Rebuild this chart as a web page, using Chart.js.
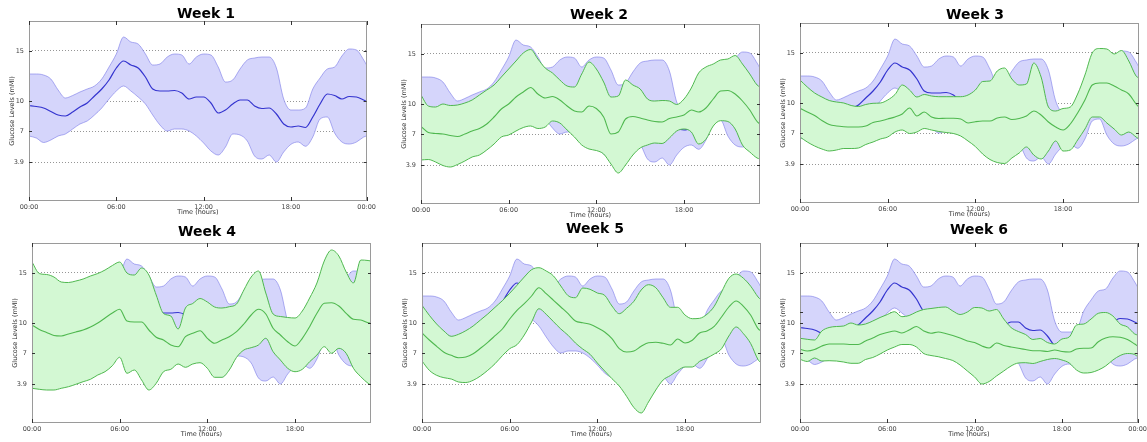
<!DOCTYPE html>
<html>
<head>
<meta charset="utf-8">
<script src="https://cdn.jsdelivr.net/npm/chart.js@4.4.1/dist/chart.umd.min.js"></script>
<style>
html,body{margin:0;padding:0;background:#fff;}
body{width:1147px;height:442px;overflow:hidden;position:relative;}
canvas{position:absolute;}
</style>
</head>
<body>
<script>
// ---------- DATA ----------
const hours = [0,0.5,1,1.5,2,2.5,3,3.5,4,4.5,5,5.5,6,6.5,7,7.5,8,8.5,9,9.5,10,10.5,11,11.5,12,12.5,13,13.5,14,14.5,15,15.5,16,16.5,17,17.5,18,18.5,19,19.5,20,20.5,21,21.5,22,22.5,23,23.2];
const xTickHours = [0, 6, 12, 18];
const X_END = 23.2;
const yTickValues = [3.9, 7, 10, 15];
const week6ExtraGrid = [11.1];
const weekTitles = ['Week 1','Week 2','Week 3','Week 4','Week 5','Week 6'];

// Week 1 (baseline, blue band shown in every panel)
const week1Upper  = [12.7,12.7,12.6,12.2,11.1,10.3,10.55,10.9,11.2,11.5,12.2,13.4,14.7,16.4,15.9,15.7,14.7,13.6,13.7,14.4,14.7,14.6,13.7,14.4,14.7,14.6,13.4,11.9,12.1,13.2,14.1,14.3,14.4,14.4,13.3,10.2,9.1,9.1,9.3,11.2,12.3,13.2,13.4,14.5,15.2,15.1,14.1,13.6];
const week1Median = [9.55,9.45,9.3,8.95,8.6,8.5,8.9,9.4,9.8,10.5,11.2,12.1,13.3,14.0,13.6,13.3,12.4,11.2,11.0,11.0,11.05,10.8,10.2,10.4,10.4,9.8,8.8,9.1,9.7,10.1,10.1,9.5,9.25,9.3,8.7,7.7,7.4,7.5,7.35,8.4,9.7,10.7,10.55,10.2,10.45,10.4,10.1,9.95];
const week1Lower  = [6.5,6.3,5.85,6.1,6.5,6.7,7.2,7.7,8.0,8.6,9.3,10.2,11.0,11.5,11.0,10.4,9.7,8.6,7.6,7.0,7.2,7.2,7.0,6.5,5.8,5.0,4.6,5.4,6.7,6.6,6.0,4.5,4.2,4.6,3.9,4.9,5.67,5.9,5.47,6.4,8.2,8.4,6.8,5.9,5.7,5.9,6.4,6.5];

// Week 2
const week2Upper  = [10.9,9.8,9.7,10.0,9.85,9.9,10.1,10.4,10.9,11.4,11.9,12.7,13.5,14.3,15.1,15.45,14.5,13.6,13.1,12.4,11.8,11.7,13.0,14.2,13.5,12.2,10.7,10.8,12.4,11.9,11.5,10.5,10.3,10.35,10.3,9.95,10.5,11.6,13.1,13.7,14.0,14.4,14.5,14.85,14.0,13.0,11.9,11.7];
const week2Median = [7.75,7.15,7.05,7.0,6.85,6.75,7.0,7.3,7.55,8.0,8.7,9.5,10.0,10.7,11.2,11.65,11.0,10.6,10.75,10.4,9.8,9.3,9.2,9.8,9.55,8.7,7.0,7.2,8.5,8.75,8.6,8.4,8.25,8.2,8.55,8.7,8.9,9.4,9.2,9.6,10.5,11.3,11.35,11.0,10.3,9.4,8.25,8.0];
const week2Lower  = [4.4,4.45,4.2,3.85,3.7,3.95,4.3,4.7,4.9,5.4,6.0,6.7,6.9,7.3,7.65,7.8,7.55,7.7,8.3,8.1,7.4,6.7,5.9,5.5,5.35,5.0,4.0,3.1,3.9,4.9,5.6,5.9,6.1,6.05,6.6,7.3,7.5,7.2,6.0,6.47,7.8,8.33,8.25,7.5,5.9,5.2,4.6,4.5];

// Week 3
const week3Upper  = [12.3,11.6,11.0,10.6,10.25,10.1,10.0,9.75,9.65,9.85,9.97,10.0,10.3,10.85,11.8,11.3,10.6,10.85,10.7,10.63,10.63,10.63,10.63,10.8,11.3,12.15,12.2,13.2,13.5,12.4,11.8,11.9,14.0,12.6,9.6,9.2,9.45,9.6,10.9,12.8,15.0,15.45,15.4,14.9,15.25,14.2,12.7,12.5];
const week3Median = [9.47,9.1,8.75,8.25,7.85,7.7,7.63,7.6,7.6,7.7,8.05,8.2,8.4,8.6,8.9,9.5,8.7,9.1,8.6,8.45,8.47,8.47,8.4,8.0,8.13,8.2,8.2,8.5,8.6,8.35,8.45,8.7,9.2,8.8,8.1,7.6,7.3,7.9,9.0,10.3,11.8,12.0,12.0,11.7,11.3,10.9,9.9,9.6];
const week3Lower  = [6.6,6.1,5.7,5.4,5.2,5.3,5.45,5.45,5.5,5.85,6.1,6.4,6.6,7.1,7.3,6.95,7.1,7.45,7.3,7.15,7.05,6.95,6.7,6.2,5.65,4.9,4.35,4.05,3.95,4.5,5.0,5.6,4.8,4.4,5.2,6.2,5.2,5.3,6.3,7.4,8.6,8.6,8.0,7.4,6.8,7.1,6.6,6.4];

// Week 4
const week4Upper  = [16.1,14.95,14.85,14.6,14.1,14.05,14.2,14.4,14.7,14.95,15.3,15.75,16.1,15.0,14.8,15.5,14.8,12.8,10.95,10.7,9.4,11.5,11.95,12.45,12.1,11.6,11.5,11.63,11.9,13.3,14.6,15.2,13.0,10.9,10.65,10.55,10.5,11.2,12.5,14.0,16.2,17.3,16.7,15.1,14.0,16.3,16.25,16.2];
const week4Median = [9.8,9.35,9.05,8.75,8.7,8.9,9.1,9.3,9.6,10.0,10.5,11.0,11.37,10.2,10.1,10.1,9.3,8.57,8.3,7.8,7.63,8.63,8.97,9.23,8.47,7.97,8.3,8.63,9.13,9.9,10.8,11.37,10.9,9.47,8.8,8.13,7.7,8.47,9.63,10.97,11.97,12.03,11.7,10.97,10.37,10.3,10.03,10.0];
const week4Lower  = [3.47,3.37,3.3,3.3,3.47,3.63,3.87,4.13,4.37,4.8,5.13,5.73,6.57,4.97,5.3,4.3,3.3,3.97,5.13,5.37,5.9,5.57,5.9,6.03,5.47,4.57,4.57,5.3,6.57,7.3,7.53,7.8,8.47,7.13,6.3,5.47,5.13,5.37,6.13,6.8,7.63,6.97,7.47,6.97,5.47,4.63,3.97,3.8];

// Week 5
const week5Upper  = [11.77,10.77,9.9,9.2,8.67,8.87,9.23,9.7,10.3,10.9,11.57,12.23,12.97,13.77,14.6,15.33,15.53,15.2,14.7,13.7,12.73,12.53,13.5,13.37,13.0,12.77,11.7,10.93,11.47,12.17,13.3,13.83,13.53,12.53,11.57,11.57,10.8,10.43,10.47,10.87,11.67,13.1,14.47,14.9,14.47,13.67,12.6,12.3];
const week5Median = [9.0,8.3,7.67,7.07,6.77,6.53,6.6,6.93,7.47,8.07,8.73,9.4,10.4,11.27,11.93,12.7,13.53,12.93,12.27,11.6,10.93,10.2,10.03,9.87,9.53,9.1,8.43,7.43,7.1,7.2,7.67,8.03,8.07,7.97,7.8,8.4,8.0,8.27,9.0,9.2,9.67,10.6,11.6,12.2,11.67,10.77,9.43,9.2];
const week5Lower  = [6.2,5.27,4.77,4.53,4.4,4.1,4.05,4.27,4.7,5.27,5.93,6.73,7.43,7.83,8.8,10.1,11.43,10.87,10.13,9.4,8.77,8.0,7.4,6.87,6.0,5.2,4.43,3.7,2.67,1.55,1.0,2.1,3.3,4.3,4.75,5.25,5.6,5.6,6.17,6.5,6.9,7.43,8.7,9.6,8.93,7.93,6.33,6.0];

// Week 6
const week6Upper  = [8.47,8.37,8.3,9.2,9.55,9.65,9.7,10.0,9.8,9.9,10.2,10.55,10.85,11.13,10.63,10.75,11.1,11.35,11.45,11.55,11.6,11.2,10.85,11.1,11.55,11.5,11.2,11.35,10.4,9.55,9.15,8.85,8.35,8.45,8.05,7.9,8.4,8.6,9.8,9.9,10.4,10.97,11.05,10.7,9.9,9.6,8.9,8.8];
const week6Median = [7.37,7.2,7.35,7.7,7.9,7.9,7.9,7.85,7.85,8.2,8.5,8.85,9.05,9.2,9.0,9.3,9.65,9.2,8.97,9.1,8.95,8.75,8.5,8.2,8.05,7.7,7.5,8.0,7.75,7.6,7.47,7.35,7.23,7.23,7.15,7.3,7.15,7.1,7.4,7.47,7.5,8.13,8.5,8.63,8.57,8.35,7.9,7.7];
const week6Lower  = [6.37,6.15,6.5,6.2,6.23,6.2,6.1,5.97,5.97,6.35,6.55,6.9,7.3,7.6,7.85,7.85,7.6,6.95,6.75,6.63,6.45,6.25,5.8,5.2,4.6,3.9,4.15,4.7,5.2,5.7,6.0,6.03,5.95,6.15,6.35,6.45,6.3,6.0,5.3,5.0,5.05,5.3,5.7,6.3,6.75,6.95,6.85,6.63];

const greenBands = [
  null,
  [week2Lower, week2Median, week2Upper],
  [week3Lower, week3Median, week3Upper],
  [week4Lower, week4Median, week4Upper],
  [week5Lower, week5Median, week5Upper],
  [week6Lower, week6Median, week6Upper]
];

// ---------- LAYOUT / STYLE ----------
const PLOT_W = 339, PLOT_H = 180, Y_AXIS_W = 30, TOP_PAD = 24, X_AXIS_H = 18, RIGHT_PAD = 10;
const panelLayout = [
  {left:29,  top:21,  titleX:206, titleY:18,  endLabel:true,  extraGrid:false},
  {left:421, top:24,  titleX:599, titleY:19,  endLabel:false, extraGrid:false},
  {left:800, top:23,  titleX:975, titleY:19,  endLabel:false, extraGrid:false},
  {left:32,  top:243, titleX:207, titleY:236, endLabel:false, extraGrid:false},
  {left:422, top:243, titleX:595, titleY:233, endLabel:false, extraGrid:false},
  {left:800, top:243, titleX:979, titleY:234, endLabel:true,  extraGrid:true}
];
const BLUE_EDGE = 'rgba(120,120,232,0.75)';
const BLUE_FILL = '#d5d5fb';
const BLUE_LINE = '#3434cf';
const GREEN_EDGE = '#4fb84f';
const GREEN_FILL = '#d3f8d3';
const SMALL_FONT = {family:'"DejaVu Sans", sans-serif', size:6.5};

function pts(arr){ return hours.map((h,i)=>({x:h, y:arr[i]})); }
function fmtHour(v){ return v >= X_END ? '00:00' : String(v).padStart(2,'0') + ':00'; }

const decor = {
  id:'decor',
  afterDatasetsDraw(chart, args, opts){
    const {ctx, chartArea:a, scales:{x, y}} = chart;
    ctx.save();
    ctx.strokeStyle = '#9a9a9a';
    ctx.lineWidth = 1;
    ctx.strokeRect(Math.round(a.left)+0.5, Math.round(a.top)+0.5, Math.round(a.right-a.left)-1, Math.round(a.bottom-a.top)-1);
    ctx.strokeStyle = '#333';
    ctx.beginPath();
    x.ticks.forEach(t=>{
      const px = Math.round(x.getPixelForValue(t.value))+0.5;
      ctx.moveTo(px, a.bottom); ctx.lineTo(px, a.bottom-4);
      ctx.moveTo(px, a.top); ctx.lineTo(px, a.top+4);
    });
    y.ticks.forEach(t=>{
      const py = Math.round(y.getPixelForValue(t.value))+0.5;
      ctx.moveTo(a.left, py); ctx.lineTo(a.left+3, py);
      ctx.moveTo(a.right, py); ctx.lineTo(a.right-3, py);
    });
    ctx.stroke();
    ctx.fillStyle = '#000';
    ctx.font = 'bold 14px "DejaVu Sans", sans-serif';
    ctx.textAlign = 'center';
    ctx.textBaseline = 'alphabetic';
    ctx.fillText(opts.text, opts.x, opts.y);
    ctx.restore();
  }
};

function datasetsFor(i){
  const ds = [
    {data:pts(week1Lower),  borderColor:BLUE_EDGE, borderWidth:0.8, fill:false, order:6},
    {data:pts(week1Upper),  borderColor:BLUE_EDGE, borderWidth:0.8, fill:'-1', backgroundColor:BLUE_FILL, order:6},
    {data:pts(week1Median), borderColor:BLUE_LINE, borderWidth:1.2, fill:false, order:5}
  ];
  const g = greenBands[i];
  if (g) {
    ds.push(
      {data:pts(g[0]), borderColor:GREEN_EDGE, borderWidth:1, fill:false, order:3},
      {data:pts(g[2]), borderColor:GREEN_EDGE, borderWidth:1, fill:'-1', backgroundColor:GREEN_FILL, order:3},
      {data:pts(g[1]), borderColor:GREEN_EDGE, borderWidth:1.1, fill:false, order:2}
    );
  }
  return ds;
}

panelLayout.forEach((p, i) => {
  const cv = document.createElement('canvas');
  const W = Y_AXIS_W + PLOT_W + RIGHT_PAD, H = TOP_PAD + PLOT_H + X_AXIS_H;
  const cl = p.left - Y_AXIS_W, ct = p.top - TOP_PAD;
  cv.width = W; cv.height = H;
  cv.style.left = cl + 'px'; cv.style.top = ct + 'px';
  cv.style.width = W + 'px'; cv.style.height = H + 'px';
  document.body.appendChild(cv);
  const xt = p.endLabel ? xTickHours.concat([X_END]) : xTickHours.slice();
  const yt = p.extraGrid ? yTickValues.concat(week6ExtraGrid).sort((a,b)=>a-b) : yTickValues.slice();
  new Chart(cv, {
    type:'line',
    data:{datasets: datasetsFor(i)},
    plugins:[decor],
    options:{
      responsive:false, animation:false, devicePixelRatio:1, events:[],
      layout:{padding:{top:TOP_PAD, right:RIGHT_PAD, left:0, bottom:0}},
      elements:{point:{radius:0}, line:{cubicInterpolationMode:'monotone'}},
      plugins:{
        legend:{display:false}, tooltip:{enabled:false}, title:{display:false},
        decor:{text:weekTitles[i], x:p.titleX - cl, y:p.titleY - ct}
      },
      scales:{
        x:{
          type:'linear', min:0, max:X_END,
          afterBuildTicks: s => { s.ticks = xt.map(v=>({value:v})); },
          afterFit: s => { s.height = X_AXIS_H; },
          ticks:{autoSkip:false, maxRotation:0, minRotation:0, padding:2, font:SMALL_FONT, color:'#444', callback: v => fmtHour(v)},
          grid:{display:false, drawTicks:false},
          border:{display:false},
          title:{display:true, text:'Time (hours)', font:SMALL_FONT, color:'#333', padding:{top:0, bottom:3}}
        },
        y:{
          type:'linear', min:0, max:18,
          afterBuildTicks: s => { s.ticks = yt.map(v=>({value:v})); },
          afterFit: s => { s.width = Y_AXIS_W; },
          ticks:{padding:5, font:SMALL_FONT, color:'#444', callback: v => (week6ExtraGrid.includes(v) ? '' : String(v))},
          grid:{color:'#8a8a8a', lineWidth:0.9, drawTicks:false},
          border:{display:false, dash:[1,2]},
          title:{display:true, text:'Glucose Levels (mMl)', font:SMALL_FONT, color:'#333', padding:{top:9, bottom:0}}
        }
      }
    }
  });
});
</script>
</body>
</html>
